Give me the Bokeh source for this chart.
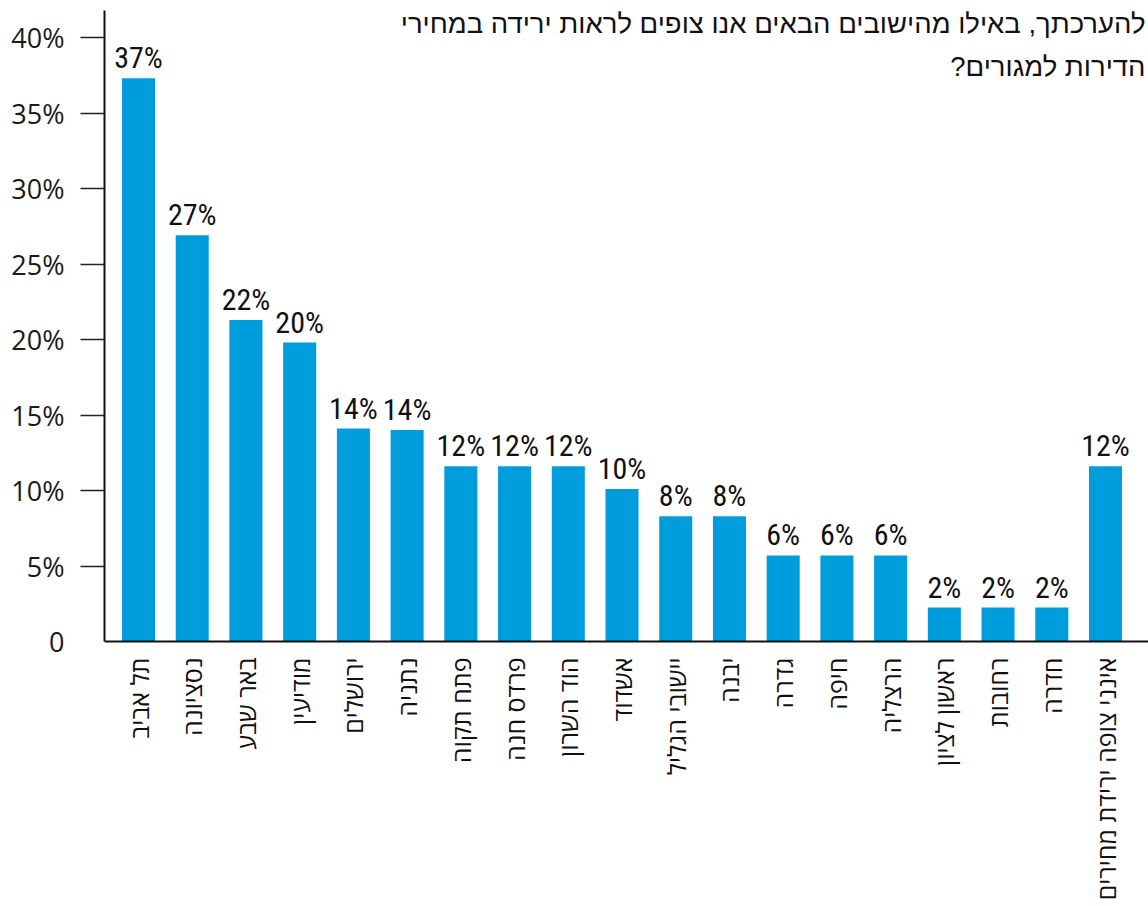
import math
from bokeh.plotting import figure
from bokeh.models import ColumnDataSource, FixedTicker, Label, LabelSet, Range1d, Span
from bokeh.core.properties import value
from bokeh.embed import file_html
from bokeh.resources import INLINE

categories = ["תל אביב", "נסציונה", "באר שבע", "מודיעין", "ירושלים", "נתניה",
              "פתח תקוה", "פרדס חנה", "הוד השרון", "אשדוד", "יישובי הגליל", "יבנה",
              "גדרה", "חיפה", "הרצליה", "ראשון לציון", "רחובות", "חדרה",
              "אינני צופה ירידת מחירים"]
values = [37.3, 26.9, 21.3, 19.8, 14.1, 14.0, 11.6, 11.6, 11.6, 10.1, 8.3, 8.3,
          5.7, 5.7, 5.7, 2.25, 2.25, 2.25, 11.6]
value_labels = ["37%", "27%", "22%", "20%", "14%", "14%", "12%", "12%", "12%", "10%",
                "8%", "8%", "6%", "6%", "6%", "2%", "2%", "2%", "12%"]
y_ticks = [0, 5, 10, 15, 20, 25, 30, 35, 40]
y_tick_labels = ["0", "5%", "10%", "15%", "20%", "25%", "30%", "35%", "40%"]
title_lines = ["להערכתך, באילו מהישובים הבאים אנו צופים לראות ירידה במחירי",
               "הדירות למגורים?\u200f"]

BAR = "#009DDC"
INK = "#111111"
Y_TOP = 41.79
xs = list(range(len(categories)))
src = ColumnDataSource(dict(x=xs, top=values, label=value_labels,
                            base=[0] * len(xs), cat=categories))

# the frame reaches down to the page bottom so that the rotated category
# names (drawn as labels below the zero line) are not clipped
p = figure(width=1148, height=906, title=None,
           x_range=Range1d(-0.633, 18.80), y_range=Range1d(-17.55, Y_TOP),
           output_backend="svg", toolbar_location=None, x_axis_location=None,
           min_border_left=104, min_border_top=10, min_border_bottom=0, min_border_right=0)
p.outline_line_color = None
p.xgrid.visible = False
p.ygrid.visible = False
p.background_fill_color = "white"

p.vbar(x="x", top="top", bottom=0, width=0.615, source=src, fill_color=BAR, line_color=None)

# x axis line at zero
p.add_layout(Span(location=0, dimension="width", line_color=INK, line_width=2))

p.add_layout(LabelSet(x="x", y="top", text="label", source=src, y_offset=10,
                      text_align="center", text_baseline="alphabetic",
                      text_font=value("Roboto Condensed"), text_font_size="30px",
                      text_color=INK))

p.add_layout(LabelSet(x="x", y="base", text="cat", source=src, angle=math.pi / 2,
                      y_offset=-16, text_align="right", text_baseline="middle",
                      text_font=value("Open Sans"), text_font_size="25px",
                      text_color=INK))

# y axis
ya = p.yaxis[0]
ya.bounds = (0, Y_TOP)
ya.ticker = FixedTicker(ticks=y_ticks, minor_ticks=y_ticks[1:])
ya.major_label_overrides = {t: l for t, l in zip(y_ticks, y_tick_labels)}
ya.major_tick_line_color = None
ya.major_tick_out = 0
ya.major_tick_in = 0
ya.minor_tick_out = 24
ya.minor_tick_in = 0
ya.minor_tick_line_color = "#222222"
ya.minor_tick_line_width = 1.5
ya.axis_line_width = 2
ya.axis_line_color = INK
ya.major_label_standoff = 16
ya.major_label_text_font = "Open Sans"
ya.major_label_text_font_size = "27px"
ya.major_label_text_color = "#1a1a1a"

for line, off in zip(title_lines, [-13, -56]):
    p.add_layout(Label(x=18.80, y=Y_TOP, x_offset=-3, y_offset=off, text=line,
                       text_align="right", text_baseline="alphabetic",
                       text_font="Liberation Sans", text_font_size="27.5px",
                       text_color=INK))

open("out.html", "w").write(file_html(p, INLINE))
